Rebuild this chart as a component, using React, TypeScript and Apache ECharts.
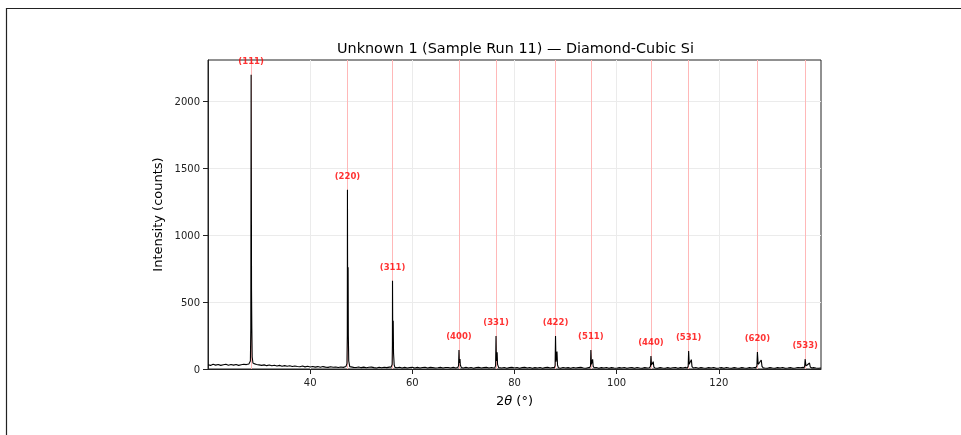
import React, { useEffect, useRef } from 'react';
import * as echarts from 'echarts';

// Peak positions (2θ, degrees), Miller indices and Kα1 peak heights (counts)
const peakPositions = [28.44, 47.3, 56.12, 69.13, 76.38, 88.03, 94.95, 106.71, 114.09, 127.55, 136.9];
const peakLabels = ['(111)', '(220)', '(311)', '(400)', '(331)', '(422)', '(511)', '(440)', '(531)', '(620)', '(533)'];
const peakHeights = [2200, 1340, 660, 142, 247, 247, 142, 97, 135, 127, 75];

// Peak profile points [2θ, counts] (Kα1 + Kα2 doublets)
const peakProfiles: number[][][] = [
  [[28.1, 36], [28.3, 60], [28.38, 300], [28.44, 2200], [28.5, 1100], [28.52, 600], [28.58, 300], [28.65, 90], [28.8, 45]],
  [[47.0, 18], [47.2, 40], [47.27, 250], [47.3, 1340], [47.34, 420], [47.4, 430], [47.43, 760], [47.47, 250], [47.55, 60], [47.75, 18]],
  [[55.85, 14], [56.05, 35], [56.1, 180], [56.12, 660], [56.17, 195], [56.26, 360], [56.32, 120], [56.45, 30], [56.6, 12]],
  [[68.9, 11], [69.05, 25], [69.13, 142], [69.2, 45], [69.33, 75], [69.4, 30], [69.6, 10]],
  [[76.15, 10], [76.3, 25], [76.38, 247], [76.45, 60], [76.6, 125], [76.68, 35], [76.9, 10]],
  [[87.8, 10], [87.95, 25], [88.03, 247], [88.12, 55], [88.32, 130], [88.42, 30], [88.6, 9]],
  [[94.7, 9], [94.88, 22], [94.95, 142], [95.05, 35], [95.3, 72], [95.4, 20], [95.6, 9]],
  [[106.4, 9], [106.62, 20], [106.71, 97], [106.82, 30], [107.16, 55], [107.28, 15], [107.5, 8]],
  [[113.8, 8], [114.0, 20], [114.09, 135], [114.2, 35], [114.62, 70], [114.75, 18], [115.0, 8]],
  [[127.2, 8], [127.45, 22], [127.55, 127], [127.7, 35], [128.0, 50], [128.3, 67], [128.45, 20], [128.7, 8]],
  [[136.6, 8], [136.8, 18], [136.9, 75], [137.05, 25], [137.3, 30], [137.75, 45], [137.9, 15], [138.2, 8]],
];

// Background counts, sampled every 0.5° from 20° to 140°
const bgStart = 20;
const bgStep = 0.5;
const bgIntensity = [
  32, 27, 35, 29, 34, 27, 32, 36, 28, 33,
  29, 34, 27, 32, 35, 33, 38, 40, 40, 34,
  31, 27, 31, 25, 30, 24, 28, 23, 27, 21,
  25, 20, 24, 18, 23, 19, 17, 22, 16, 20,
  15, 19, 14, 18, 13, 18, 14, 12, 17, 13,
  15, 11, 15, 12, 17, 19, 16, 12, 11, 15,
  10, 14, 9, 13, 14, 10, 8, 13, 9, 13,
  10, 14, 17, 13, 9, 13, 8, 12, 7, 11,
  12, 8, 12, 7, 11, 13, 8, 12, 10, 7,
  9, 12, 7, 11, 11, 8, 12, 7, 14, 10,
  8, 12, 7, 11, 6, 10, 12, 7, 10, 12,
  7, 11, 8, 14, 11, 7, 11, 6, 10, 12,
  7, 11, 6, 10, 12, 7, 11, 6, 10, 8,
  11, 6, 10, 12, 7, 10, 13, 9, 6, 11,
  7, 10, 6, 11, 7, 10, 12, 7, 6, 10,
  12, 7, 11, 6, 10, 7, 11, 6, 10, 7,
  6, 10, 7, 11, 6, 9, 10, 6, 11, 7,
  6, 10, 7, 11, 11, 7, 6, 10, 7, 6,
  10, 6, 9, 11, 6, 10, 7, 12, 9, 6,
  7, 11, 6, 10, 7, 6, 10, 7, 11, 6,
  7, 10, 6, 11, 7, 6, 10, 7, 6, 10,
  7, 6, 10, 7, 11, 6, 12, 9, 7, 6,
  10, 7, 6, 10, 7, 11, 6, 7, 10, 6,
  7, 11, 9, 12, 10, 7, 6, 10, 7, 6,
  8,
];

const xTicks = [40, 60, 80, 100, 120];
const yTicks = [0, 500, 1000, 1500, 2000];

const FONT = 'DejaVu Sans';

export default function App() {
  const ref = useRef<HTMLDivElement>(null);

  useEffect(() => {
    const chart = echarts.init(ref.current!, null, { renderer: 'svg' });

    const windows = peakProfiles.map((p) => [p[0][0], p[p.length - 1][0]]);
    const pts: number[][] = [];
    bgIntensity.forEach((v, i) => {
      const x = bgStart + i * bgStep;
      if (!windows.some(([a, b]) => x >= a && x <= b)) pts.push([x, v]);
    });
    peakProfiles.forEach((p) => p.forEach((q) => pts.push(q)));
    pts.sort((a, b) => a[0] - b[0]);

    const labelData = peakPositions.map((x, i) => ({
      value: [x, peakHeights[i] + 105],
      name: peakLabels[i],
    }));

    chart.setOption({
      animation: false,
      textStyle: { fontFamily: FONT },
      title: {
        text: 'Unknown 1 (Sample Run 11) — Diamond-Cubic Si',
        left: 332,
        top: 36,
        textStyle: { fontFamily: FONT, fontSize: 14.4, fontWeight: 'normal', color: '#000' },
      },
      graphic: [
        {
          type: 'rect',
          shape: { x: 6.5, y: 8.5, width: 1000, height: 500 },
          style: { fill: 'none', stroke: '#222', lineWidth: 1.2 },
          silent: true,
        },
      ],
      grid: {
        left: 208,
        top: 60,
        width: 613,
        height: 309,
        show: true,
        borderColor: '#222',
        borderWidth: 1,
        backgroundColor: 'transparent',
      },
      xAxis: {
        type: 'value',
        min: 20,
        max: 140,
        interval: 20,
        name: '2{it|θ} (°)',
        nameLocation: 'middle',
        nameGap: 25,
        nameTextStyle: {
          fontFamily: FONT,
          fontSize: 13,
          color: '#000',
          rich: { it: { fontStyle: 'italic', fontFamily: FONT, fontSize: 13, color: '#000' } },
        },
        axisLine: { show: true, onZero: false, lineStyle: { color: '#222', width: 1 } },
        axisTick: { show: true, length: 5, lineStyle: { color: '#222' }, customValues: xTicks },
        axisLabel: { customValues: xTicks, fontSize: 10, color: '#222', margin: 8, fontFamily: FONT },
        splitLine: { show: true, lineStyle: { color: '#ebebeb', width: 1 } },
      },
      yAxis: {
        type: 'value',
        min: 0,
        max: 2310,
        interval: 500,
        name: 'Intensity (counts)',
        nameLocation: 'middle',
        nameGap: 33,
        nameTextStyle: { fontFamily: FONT, fontSize: 13, color: '#000' },
        axisLine: { show: true, onZero: false, lineStyle: { color: '#222', width: 1 } },
        axisTick: { show: true, length: 5, lineStyle: { color: '#222' }, customValues: yTicks },
        axisLabel: {
          customValues: yTicks,
          fontSize: 10,
          color: '#222',
          margin: 8,
          fontFamily: FONT,
          formatter: (v: number) => String(v),
        },
        splitLine: { show: true, lineStyle: { color: '#ebebeb', width: 1 } },
      },
      series: [
        {
          type: 'line',
          data: [],
          silent: true,
          z: 1,
          markLine: {
            silent: true,
            z: 1,
            symbol: ['none', 'none'],
            label: { show: false },
            lineStyle: { color: '#ffb8b8', width: 1, type: 'solid', opacity: 1 },
            data: peakPositions.map((x) => ({ xAxis: x })),
          },
        },
        {
          type: 'line',
          data: pts,
          showSymbol: false,
          symbol: 'none',
          lineStyle: { color: '#000', width: 1.1 },
          silent: true,
          z: 3,
        },
        {
          type: 'scatter',
          data: labelData,
          symbolSize: 2,
          itemStyle: { color: 'rgba(0,0,0,0)' },
          silent: true,
          z: 4,
          labelLayout: { hideOverlap: false },
          label: {
            show: true,
            position: 'inside',
            formatter: (p: any) => p.name,
            color: '#ff0000',
            fontWeight: 'bold',
            fontSize: 8.5,
            fontFamily: FONT,
          },
        },
      ],
    });

    return () => chart.dispose();
  }, []);

  return <div ref={ref} style={{ position: 'fixed', left: 0, top: 0, width: 961, height: 435 }} />;
}
